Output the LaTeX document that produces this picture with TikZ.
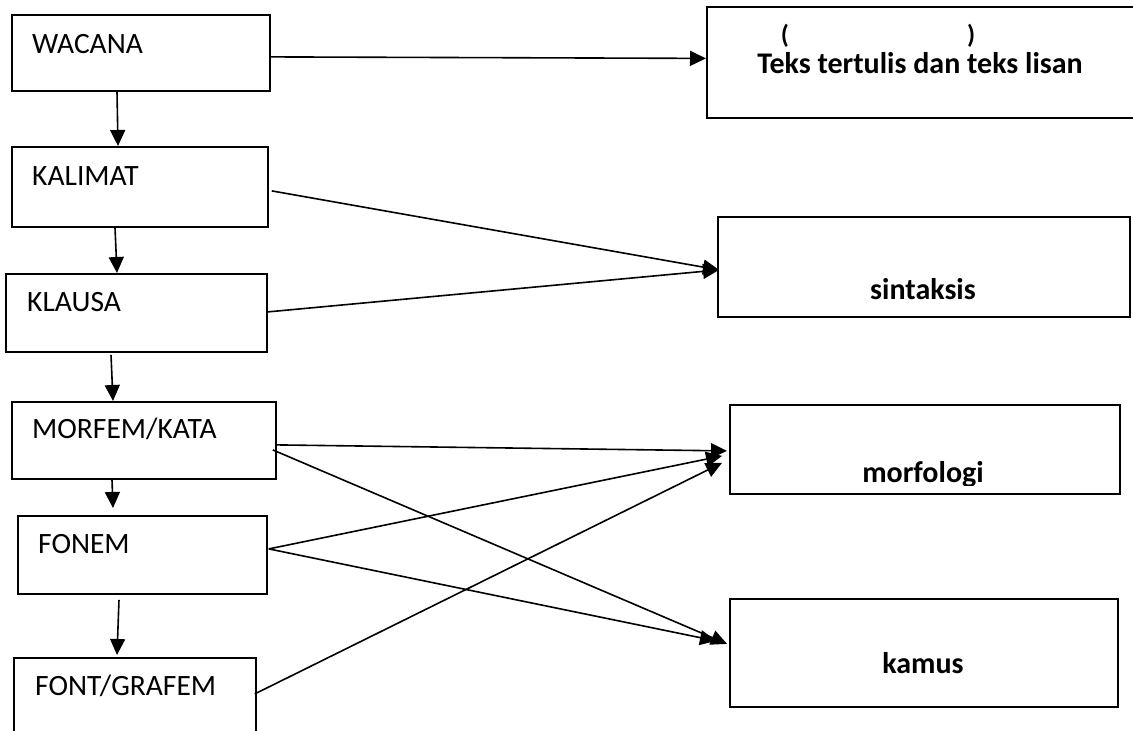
\documentclass[tikz,border=0pt]{standalone}
\usepackage{fontspec}
\setmainfont{Carlito}
\usetikzlibrary{arrows.meta, positioning, calc}

\begin{document}
\begin{tikzpicture}[x=1pt, y=-1pt,
  box/.style={draw, line width=1.8pt, inner sep=0pt, anchor=north west},
  lbl/.style={anchor=base west, inner sep=0pt, font=\fontsize{29.5}{33}\selectfont},
  ttl/.style={anchor=base, inner sep=0pt, font=\fontsize{30}{34}\selectfont\bfseries},
  arr/.style={line width=1.6pt, -{Triangle[length=16pt, width=15pt]}}]
\useasboundingbox (0,0) rectangle (1133,731);
% Left column of units
\node[box, minimum width=258pt, minimum height=76pt] (wacana) at (11,14) {};
\node[box, minimum width=256pt, minimum height=80pt] (kalimat) at (11,146) {};
\node[box, minimum width=261pt, minimum height=78pt] (klausa) at (5,273) {};
\node[box, minimum width=264pt, minimum height=77pt] (morfem) at (11,401) {};
\node[box, minimum width=249pt, minimum height=78pt] (fonem) at (17,515) {};
\node[box, minimum width=242pt, minimum height=88pt] (grafem) at (13,657) {};
\node[lbl] (wacana-t) at ($(wacana.north west)+(21,39)$) {WACANA};
\node[lbl] (kalimat-t) at ($(kalimat.north west)+(21,39)$) {KALIMAT};
\node[lbl] (klausa-t) at ($(klausa.north west)+(22,38)$) {KLAUSA};
\node[lbl] (morfem-t) at ($(morfem.north west)+(21,37)$) {MORFEM/KATA};
\node[lbl] (fonem-t) at ($(fonem.north west)+(21,38)$) {FONEM};
\node[lbl] (grafem-t) at ($(grafem.north west)+(22,38)$) {FONT/GRAFEM};
% Right column of fields
\node[box, minimum width=440pt, minimum height=111pt] (teks) at (706,6) {};
\node[box, minimum width=412pt, minimum height=100pt] (sintaksis) at (717,216) {};
\node[box, minimum width=390pt, minimum height=89pt] (morfologi) at (729,404) {};
\node[box, minimum width=388pt, minimum height=108pt] (kamus) at (729,598) {};
\node[ttl, font=\fontsize{26}{30}\selectfont\bfseries] (paren-t) at ($(teks.north west)+(172,37)$) {(\hspace{178pt})};
\node[ttl] (teks-t) at ($(teks.north west)+(214,67)$) {Teks tertulis dan teks lisan};
\node[ttl] (sintaksis-t) at ($(sintaksis.south west)+(206,-18)$) {sintaksis};
\begin{scope}
  \clip (morfologi.north west) rectangle ($(morfologi.south east)+(0,-9)$);
  \node[ttl] (morfologi-t) at ($(morfologi.south west)+(194,-12)$) {morfologi};
\end{scope}
\node[ttl] (kamus-t) at ($(kamus.south west)+(194,-34)$) {kamus};
% Downward chain
\draw[arr] ($(wacana.south west)+(106,0)$) -- ($(kalimat.north west)+(107,0)$);
\draw[arr] ($(kalimat.south west)+(104,0)$) -- ($(klausa.north west)+(112,0)$);
\draw[arr] ($(klausa.south west)+(106,2)$) -- ($(morfem.north west)+(102,0)$);
\draw[arr] ($(morfem.south west)+(101,0)$) -- ($(fonem.north west)+(96,-7)$);
\draw[arr] ($(fonem.south west)+(102,5)$) -- ($(grafem.north west)+(104,-2)$);
% Links to the fields
\draw[arr] ($(wacana.east)+(0,4)$) -- ($(teks.west)+(0,-4)$);
\draw[arr] ($(kalimat.east)+(3,4)$) -- ($(sintaksis.west)+(2,3)$);
\draw[arr] ($(klausa.east)+(0,-1)$) -- ($(sintaksis.west)+(2,3)$);
\draw[arr] ($(morfem.east)+(0,4.5)$) -- ($(morfologi.west)+(-2,1.5)$);
\draw[arr] ($(morfem.east)+(-4,9.5)$) -- ($(kamus.west)+(-2,-9)$);
\draw[arr] ($(fonem.east)+(1,-6)$) -- ($(morfologi.west)+(-7,6.5)$);
\draw[arr] ($(fonem.east)+(1,-6)$) -- ($(kamus.west)+(-13,-12)$);
\draw[arr] ($(grafem.east)+(-2,-8)$) -- ($(morfologi.west)+(-7,13.5)$);
\end{tikzpicture}
\end{document}
